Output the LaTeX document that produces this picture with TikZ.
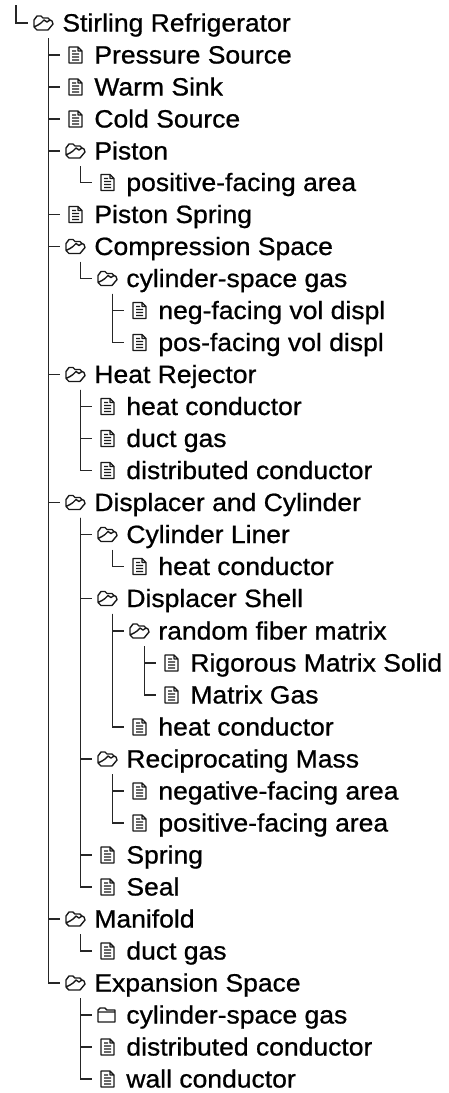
\documentclass[tikz,border=0pt]{standalone}
\usepackage{fontspec}
\setmainfont{Liberation Sans}[FakeStretch=1.06,FakeBold=0.8]
\usetikzlibrary{positioning,calc}

\begin{document}
\begin{tikzpicture}[
                x=1pt, y=1pt,
                font=\fontsize{25}{28}\selectfont,
                branch/.style={draw, line width=1.7pt, black!85},
                iconline/.style={draw, line width=1.4pt, black!90, line join=round},
                item/.style={text height=23pt, text depth=6pt, inner sep=0pt, text=black},
                icon/.style={rectangle, minimum width=30pt, minimum height=30pt, inner sep=0pt,
                        label={[item, label distance=4pt]right:#1}},
                docnode/.style={icon={#1}, path picture={
                        \draw[iconline, shift={(path picture bounding box.center)}]
                            (-6,8) -- (3,8) -- (7,4) -- (7,-8) -- (-6,-8) -- cycle
                            (3,8) -- (3,4) -- (7,4)
                            (-3,4) -- (1,4) (-3,1) -- (4,1) (-3,-2) -- (4,-2) (-3,-5) -- (4,-5);}},
                foldernode/.style={icon={#1}, path picture={
                        \draw[iconline, shift={(path picture bounding box.center)}]
                            (-9,-7) -- (-9,5) -- (-7,7) -- (-2,7) -- (0,5) -- (8,5) -- (8,-7) -- cycle
                            (-9,3) -- (8,3);}},
                opennode/.style={icon={#1}, path picture={
                        \draw[iconline, shift={(path picture bounding box.center)}]
                            (-9,-4) -- (-9,3) -- (-6,7) -- (-2,7) -- (0,5) -- (5,5) -- (7,3)
                            (-9,-4) -- (-6,-7) -- (5,-7) -- (10,-1) -- (9,2) -- (7,3) -- (4,1) -- (1,3) -- (-2,0) -- (-5,-2) -- (-9,-4);}},
            ]
            \useasboundingbox (0,0) rectangle (448,-1093);

            % ── Root ──────────────────────────────────────────────
            \coordinate (rootstem) at (16,-5);
            \node[opennode={Stirling Refrigerator}] (root) at (43,-23) {};
            \draw[branch] (rootstem) |- (root.west);

            % ── Level 1 items ─────────────────────────────────────
            \node[docnode={Pressure Source}]      (pressure)  at (75,-55) {};
            \node[docnode={Warm Sink}]            (warm)      at (75,-87) {};
            \node[docnode={Cold Source}]          (cold)      at (75,-119) {};
            \node[opennode={Piston}]              (piston)    at (75,-151) {};
            \node[docnode={Piston Spring}]        (spring)    at (75,-214.5) {};
            \node[opennode={Compression Space}]   (compress)  at (75,-246.5) {};
            \node[opennode={Heat Rejector}]       (rejector)  at (75,-374.5) {};
            \node[opennode={Displacer and Cylinder}] (displacer) at (75,-502.5) {};
            \node[opennode={Manifold}]            (manifold)  at (75,-919) {};
            \node[opennode={Expansion Space}]     (expansion) at (75,-983) {};
            \foreach \child in {pressure,warm,cold,piston,spring,compress,rejector,displacer,manifold,expansion}
                \draw[branch] ([xshift=5.5pt]root.south) |- (\child.west);

            % ── Piston ────────────────────────────────────────────
            \node[docnode={positive-facing area}] (pistonarea) at (107,-182.5) {};
            \draw[branch] ([xshift=5.5pt]piston.south) |- (pistonarea.west);

            % ── Compression Space ─────────────────────────────────
            \node[opennode={cylinder-space gas}]  (compgas) at (107,-278.5) {};
            \node[docnode={neg-facing vol displ}] (negvol)  at (139,-310.5) {};
            \node[docnode={pos-facing vol displ}] (posvol)  at (139,-342.5) {};
            \draw[branch] ([xshift=5.5pt]compress.south) |- (compgas.west);
            \draw[branch] ([xshift=5.5pt]compgas.south) |- (negvol.west);
            \draw[branch] ([xshift=5.5pt]compgas.south) |- (posvol.west);

            % ── Heat Rejector ─────────────────────────────────────
            \node[docnode={heat conductor}]       (rejcond) at (107,-406.5) {};
            \node[docnode={duct gas}]             (rejduct) at (107,-438.5) {};
            \node[docnode={distributed conductor}] (rejdist) at (107,-470.5) {};
            \foreach \child in {rejcond,rejduct,rejdist}
                \draw[branch] ([xshift=5.5pt]rejector.south) |- (\child.west);

            % ── Displacer and Cylinder ────────────────────────────
            \node[opennode={Cylinder Liner}]      (liner)  at (107,-534.5) {};
            \node[opennode={Displacer Shell}]     (shell)  at (107,-598.5) {};
            \node[opennode={Reciprocating Mass}]  (recip)  at (107,-759) {};
            \node[docnode={Spring}]               (dspring) at (107,-855) {};
            \node[docnode={Seal}]                 (seal)   at (107,-887) {};
            \foreach \child in {liner,shell,recip,dspring,seal}
                \draw[branch] ([xshift=5.5pt]displacer.south) |- (\child.west);

            \node[docnode={heat conductor}]       (linercond) at (139,-566.5) {};
            \draw[branch] ([xshift=5.5pt]liner.south) |- (linercond.west);

            \node[opennode={random fiber matrix}] (fiber)     at (139,-631) {};
            \node[docnode={heat conductor}]       (shellcond) at (139,-727) {};
            \node[docnode={Rigorous Matrix Solid}] (solid)    at (171,-663) {};
            \node[docnode={Matrix Gas}]           (matgas)    at (171,-695) {};
            \draw[branch] ([xshift=5.5pt]shell.south) |- (fiber.west);
            \draw[branch] ([xshift=5.5pt]shell.south) |- (shellcond.west);
            \draw[branch] ([xshift=5.5pt]fiber.south) |- (solid.west);
            \draw[branch] ([xshift=5.5pt]fiber.south) |- (matgas.west);

            \node[docnode={negative-facing area}] (negarea) at (139,-791) {};
            \node[docnode={positive-facing area}] (posarea) at (139,-823) {};
            \draw[branch] ([xshift=5.5pt]recip.south) |- (negarea.west);
            \draw[branch] ([xshift=5.5pt]recip.south) |- (posarea.west);

            % ── Manifold ──────────────────────────────────────────
            \node[docnode={duct gas}] (manduct) at (107,-951) {};
            \draw[branch] ([xshift=5.5pt]manifold.south) |- (manduct.west);

            % ── Expansion Space ───────────────────────────────────
            \node[foldernode={cylinder-space gas}] (expgas)  at (107,-1015) {};
            \node[docnode={distributed conductor}] (expdist) at (107,-1047) {};
            \node[docnode={wall conductor}]        (expwall) at (107,-1079) {};
            \foreach \child in {expgas,expdist,expwall}
                \draw[branch] ([xshift=5.5pt]expansion.south) |- (\child.west);
        \end{tikzpicture}
\end{document}
